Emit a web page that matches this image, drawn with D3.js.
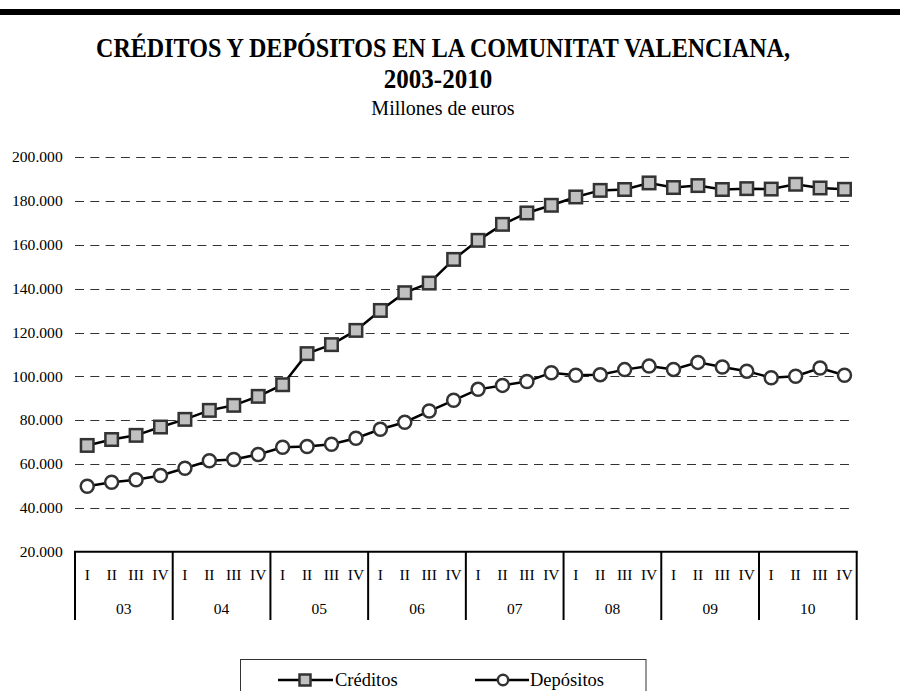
<!DOCTYPE html>
<html>
<head>
<meta charset="UTF-8">
<title>Créditos y depósitos</title>
<style>
    body {
        margin: 0;
        background: #ffffff;
    }

    svg text {
        font-family: "Liberation Serif", "Times New Roman", serif;
        fill: #000000;
    }

    .grid line {
        stroke: #333333;
        stroke-width: 1;
        stroke-dasharray: 9, 6.3;
    }

    path.serie {
        fill: none;
        stroke: #000000;
        stroke-width: 2.5;
    }

    rect.creditos {
        fill: #c0c0c0;
        stroke: #333333;
        stroke-width: 2.5;
    }

    circle.depositos {
        fill: #ffffff;
        stroke: #333333;
        stroke-width: 2.5;
    }

    .catAxis line {
        stroke: #000000;
        stroke-width: 2;
    }
</style>
</head>
<body>
<script src="https://cdn.jsdelivr.net/npm/d3@7"></script>
<script>

    // datos (millones de euros)
    var years = ["03", "04", "05", "06", "07", "08", "09", "10"];
    var quarters = ["I", "II", "III", "IV"];

    var creditos = [68500, 71200, 73100, 76900, 80400, 84500, 86800, 90900,
                    96200, 110400, 114500, 121000, 130100, 138200, 142600, 153400,
                    162100, 169400, 174600, 178100, 181900, 184900, 185300, 188300,
                    186200, 187100, 185300, 185700, 185500, 187700, 186000, 185400];

    var depositos = [49900, 51700, 52800, 54800, 58100, 61500, 62100, 64400,
                     67700, 68000, 69000, 71800, 75900, 79100, 84200, 89100,
                     94100, 95900, 97700, 101700, 100500, 100800, 103100, 104700,
                     103200, 106400, 104300, 102400, 99400, 100100, 103800, 100500];

    var yTicks = [20000, 40000, 60000, 80000, 100000, 120000, 140000, 160000, 180000, 200000];

    var width = 900, height = 691;

    var svg = d3.select("body").append("svg")
            .attr("width", width)
            .attr("height", height);

    // barra negra superior
    svg.append("rect")
            .attr("x", 0)
            .attr("y", 9)
            .attr("width", width)
            .attr("height", 6)
            .attr("fill", "#000");

    // titulos
    svg.append("text")
            .attr("transform", "translate(443,56.5) scale(1,1.13)")
            .attr("text-anchor", "middle")
            .attr("font-size", 24)
            .attr("font-weight", "bold")
            .attr("textLength", 694)
            .attr("lengthAdjust", "spacingAndGlyphs")
            .text("CRÉDITOS Y DEPÓSITOS EN LA COMUNITAT VALENCIANA,");

    svg.append("text")
            .attr("transform", "translate(438,88) scale(1,1.05)")
            .attr("text-anchor", "middle")
            .attr("font-size", 25)
            .attr("font-weight", "bold")
            .text("2003-2010");

    svg.append("text")
            .attr("x", 443)
            .attr("y", 115)
            .attr("text-anchor", "middle")
            .attr("font-size", 20)
            .text("Millones de euros");

    // escalas
    var idx = d3.range(years.length * quarters.length);

    var x = d3.scaleBand()
            .domain(idx)
            .range([75, 856.7]);

    var xYear = d3.scaleBand()
            .domain(years)
            .range([75, 856.7]);

    var y = d3.scaleLinear()
            .domain([20000, 200000])
            .range([551.7, 157.3]);

    var fmt = d3.formatLocale({decimal: ",", thousands: ".", grouping: [3], currency: ["", " €"]}).format(",");

    // rejilla horizontal discontinua
    svg.append("g")
            .attr("class", "grid")
            .selectAll("line")
            .data(yTicks.slice(1))
            .join("line")
            .attr("x1", 75)
            .attr("x2", 852)
            .attr("y1", function (d) { return Math.round(y(d)) + 0.5; })
            .attr("y2", function (d) { return Math.round(y(d)) + 0.5; });

    // eje vertical (solo etiquetas)
    var yAxis = d3.axisLeft(y)
            .tickValues(yTicks)
            .tickFormat(fmt)
            .tickSize(0)
            .tickPadding(0);

    var gy = svg.append("g")
            .attr("transform", "translate(62.7,0)")
            .call(yAxis);
    gy.select(".domain").remove();
    gy.selectAll("text")
            .attr("font-size", 15.6)
            .attr("font-family", "Liberation Serif")
            .attr("dy", "0.3em");

    // eje de categorias: trimestres y años
    var cat = svg.append("g").attr("class", "catAxis");

    cat.append("line")
            .attr("x1", 74)
            .attr("x2", 857.7)
            .attr("y1", 551.7)
            .attr("y2", 551.7);

    cat.selectAll("line.sep")
            .data(years.map(function (d) { return xYear(d); }).concat([856.7]))
            .join("line")
            .attr("class", "sep")
            .attr("x1", function (d) { return d; })
            .attr("x2", function (d) { return d; })
            .attr("y1", 551.7)
            .attr("y2", 620);

    cat.selectAll("text.q")
            .data(idx)
            .join("text")
            .attr("class", "q")
            .attr("x", function (d) { return x(d) + x.bandwidth() / 2; })
            .attr("y", 580)
            .attr("text-anchor", "middle")
            .attr("font-size", 15.5)
            .text(function (d) { return quarters[d % 4]; });

    cat.selectAll("text.yr")
            .data(years)
            .join("text")
            .attr("class", "yr")
            .attr("x", function (d) { return xYear(d) + xYear.bandwidth() / 2; })
            .attr("y", 614)
            .attr("text-anchor", "middle")
            .attr("font-size", 15.5)
            .text(function (d) { return d; });

    // series
    var line = d3.line()
            .x(function (d, i) { return x(i) + x.bandwidth() / 2; })
            .y(function (d) { return y(d); });

    svg.append("path")
            .datum(creditos)
            .attr("class", "serie")
            .attr("d", line);

    svg.append("path")
            .datum(depositos)
            .attr("class", "serie")
            .attr("d", line);

    var sq = 12.5;
    svg.append("g").selectAll("rect")
            .data(creditos)
            .join("rect")
            .attr("class", "creditos")
            .attr("x", function (d, i) { return x(i) + x.bandwidth() / 2 - sq / 2; })
            .attr("y", function (d) { return y(d) - sq / 2; })
            .attr("width", sq)
            .attr("height", sq);

    svg.append("g").selectAll("circle")
            .data(depositos)
            .join("circle")
            .attr("class", "depositos")
            .attr("cx", function (d, i) { return x(i) + x.bandwidth() / 2; })
            .attr("cy", function (d) { return y(d); })
            .attr("r", 6.5);

    // leyenda
    var legend = svg.append("g");

    legend.append("rect")
            .attr("x", 240.5)
            .attr("y", 659.5)
            .attr("width", 405.5)
            .attr("height", 40)
            .attr("fill", "none")
            .attr("stroke", "#333")
            .attr("stroke-width", 1);

    legend.append("line")
            .attr("x1", 278).attr("x2", 333)
            .attr("y1", 680).attr("y2", 680)
            .attr("stroke", "#000").attr("stroke-width", 2.5);
    legend.append("rect")
            .attr("class", "creditos")
            .attr("x", 305 - 5.5).attr("y", 680 - 5.5)
            .attr("width", 11).attr("height", 11)
            .attr("stroke-width", 2);
    legend.append("text")
            .attr("x", 335).attr("y", 686)
            .attr("font-size", 18.5)
            .text("Créditos");

    legend.append("line")
            .attr("x1", 475).attr("x2", 529)
            .attr("y1", 680).attr("y2", 680)
            .attr("stroke", "#000").attr("stroke-width", 2.5);
    legend.append("circle")
            .attr("class", "depositos")
            .attr("cx", 503).attr("cy", 680)
            .attr("r", 5.2)
            .attr("stroke-width", 2);
    legend.append("text")
            .attr("x", 530).attr("y", 686)
            .attr("font-size", 18.5)
            .text("Depósitos");

</script>
</body>
</html>
